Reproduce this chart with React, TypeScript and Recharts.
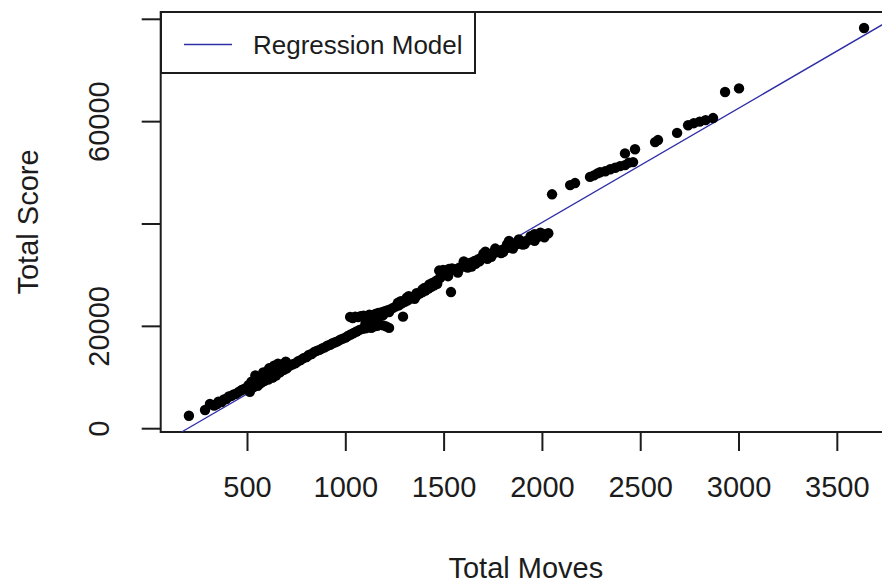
import React from "react";
import {
  ScatterChart,
  Scatter,
  XAxis,
  YAxis,
  ReferenceLine,
  ReferenceArea,
  Label,
} from "recharts";

// [total moves, total score] per game, grouped by game length
const shortGames: [number, number][] = [
  [202, 2540], [284, 3650], [309, 4830], [330, 4500], [345, 4800], [352, 5300],
  [368, 5200], [380, 5700], [392, 5800], [405, 6300], [418, 6400], [430, 6700],
  [441, 6800], [455, 7200], [468, 7500], [480, 7700], [492, 7900],
];

const mediumGames: [number, number][] = [
  [505, 8500], [512, 7200], [516, 8000], [520, 9200], [528, 9000], [530, 8100],
  [536, 9500], [540, 10400], [545, 9800], [548, 9100], [552, 8400], [556, 9900],
  [560, 8700], [565, 10000], [570, 9000], [574, 9500], [580, 11000], [582, 10400],
  [585, 9300], [590, 10700], [598, 10100], [600, 11200], [605, 9600], [607, 10800],
  [610, 11800], [615, 11300], [620, 10000], [623, 10600], [628, 10000], [632, 11500],
  [635, 12300], [640, 10800], [641, 11900], [645, 10400], [650, 11300], [655, 12700],
  [660, 12200], [665, 11000], [668, 12200], [676, 11700], [680, 12600], [685, 11500],
  [690, 12400], [695, 13100], [700, 11800], [705, 12200], [718, 12400], [730, 12600],
  [745, 12800], [758, 13200], [770, 13400], [785, 13800], [800, 14000], [812, 14400],
  [826, 14600], [840, 15000], [852, 15200], [866, 15400], [880, 15700], [893, 15900],
  [906, 16200], [920, 16400], [933, 16700], [946, 16900], [960, 17100], [972, 17400],
  [985, 17600], [998, 17800],
];

const longGames: [number, number][] = [
  [1010, 18100], [1025, 18400], [1040, 18700], [1055, 19000], [1070, 19300], [1085, 19500],
  [1100, 19600], [1115, 19800], [1130, 19700], [1145, 20000], [1160, 20100], [1175, 20300],
  [1190, 20200], [1205, 20000], [1220, 19700],
  [1022, 21850], [1035, 21600], [1048, 21900], [1062, 21800], [1075, 22000], [1090, 22100],
  [1105, 22000], [1120, 22300], [1135, 22200], [1150, 22400], [1165, 22600], [1180, 22700],
  [1195, 22900], [1210, 23100], [1225, 23300], [1240, 23600],
  [1100, 20500], [1130, 21000], [1160, 21700], [1190, 22200], [1220, 22800],
  [1255, 23900], [1265, 24600], [1270, 24100], [1280, 24900], [1285, 24500], [1291, 21900],
  [1300, 24800], [1310, 25600], [1315, 25100], [1320, 25900], [1330, 25500], [1345, 25800],
  [1350, 25400], [1360, 26000], [1360, 26500], [1375, 26400], [1390, 26700], [1390, 27200],
  [1400, 27500], [1405, 27000], [1420, 27400], [1425, 28200], [1435, 27700], [1440, 28500],
  [1450, 28000], [1460, 28900], [1465, 28300],
  [1475, 30900], [1480, 29500], [1485, 30700], [1495, 31000], [1500, 30000], [1505, 30600],
  [1515, 30900], [1520, 29800], [1525, 31200], [1535, 26700], [1540, 31300],
];

const marathonGames: [number, number][] = [
  [1550, 31000], [1565, 31200], [1570, 30500], [1580, 31500], [1595, 31700], [1600, 32700],
  [1600, 31900], [1610, 32000], [1620, 31500], [1625, 32300], [1640, 32500], [1640, 31700],
  [1655, 32800], [1660, 32200], [1670, 33000], [1680, 32700], [1685, 33300], [1700, 33500],
  [1700, 34200], [1710, 34600], [1715, 33700], [1720, 33200], [1730, 34000], [1740, 33600],
  [1745, 34200], [1760, 34400], [1760, 35200], [1775, 34700], [1790, 34900], [1790, 34300],
  [1800, 34500], [1805, 35100], [1820, 35300], [1820, 36000], [1830, 36700], [1835, 35600],
  [1850, 35800], [1850, 35200], [1865, 36000], [1880, 36200], [1880, 37000], [1895, 36400],
  [1900, 36000], [1910, 36600], [1910, 36100], [1925, 36800], [1940, 37000], [1940, 37600],
  [1955, 37200], [1960, 36700], [1960, 38000], [1970, 37400], [1985, 37600], [1990, 38300],
  [2000, 37800], [2010, 37400], [2015, 38000], [2030, 38200],
];

const extremeGames: [number, number][] = [
  [2049, 45800], [2141, 47600], [2166, 48000], [2242, 49200], [2262, 49500], [2280, 49900],
  [2293, 50100], [2320, 50300], [2345, 50700], [2370, 51000], [2395, 51300], [2420, 51500],
  [2420, 53800], [2440, 52000], [2461, 52100], [2471, 54600], [2573, 56000], [2588, 56400],
  [2685, 57800], [2741, 59300], [2770, 59700], [2800, 60000], [2830, 60300], [2868, 60700],
  [2929, 65800], [3000, 66500], [3636, 78300],
];

const movesTicks = [500, 1000, 1500, 2000, 2500, 3000, 3500];
const scoreTicks = [0, 20000, 40000, 60000, 80000];
const scoreLabels = [0, 20000, 60000];

// fitted model: score = slope * moves + intercept
const slope = 22.33;
const intercept = -4330;

const xDomain: [number, number] = [58.5, 3773];
const yDomain: [number, number] = [-645, 81426];

const games = [...shortGames, ...mediumGames, ...longGames, ...marathonGames, ...extremeGames].map(
  ([moves, score]) => ({ moves, score })
);

const fitStartX = (yDomain[0] - intercept) / slope;
const fitEndX = xDomain[1];
const fitLine = [
  { x: fitStartX, y: slope * fitStartX + intercept },
  { x: fitEndX, y: slope * fitEndX + intercept },
];

const FONT = "'Liberation Sans', Arial, sans-serif";
const INK = "#1c1c1c";
const FIT_COLOR = "#2e2ea6";

const XTick = (props: any) => {
  const { x, y, payload } = props;
  return (
    <text x={x} y={y + 46} textAnchor="middle" fontSize={29} fontFamily={FONT} fill={INK}>
      {payload.value}
    </text>
  );
};

const YTick = (props: any) => {
  const { y, payload } = props;
  if (!scoreLabels.includes(payload.value)) return null;
  const bx = 109;
  return (
    <text
      x={bx}
      y={y}
      textAnchor="middle"
      fontSize={29}
      fontFamily={FONT}
      fill={INK}
      transform={`rotate(-90 ${bx} ${y})`}
    >
      {payload.value}
    </text>
  );
};

const XTitle = (props: any) => {
  const { viewBox } = props;
  return (
    <text
      x={viewBox.x + viewBox.width / 2}
      y={578}
      textAnchor="middle"
      fontSize={29}
      fontFamily={FONT}
      fill={INK}
    >
      Total Moves
    </text>
  );
};

const YTitle = (props: any) => {
  const { viewBox } = props;
  const cy = viewBox.y + viewBox.height / 2;
  return (
    <text
      x={38}
      y={cy}
      textAnchor="middle"
      fontSize={29}
      fontFamily={FONT}
      fill={INK}
      transform={`rotate(-90 38 ${cy})`}
    >
      Total Score
    </text>
  );
};

const Dot = (props: any) => <circle cx={props.cx} cy={props.cy} r={5.2} fill="#000" />;

export default function App() {
  return (
    <div
      style={{
        position: "absolute",
        left: 0,
        top: 0,
        width: 882,
        height: 585,
        overflow: "hidden",
        background: "#fff",
      }}
    >
      <ScatterChart
        width={895}
        height={585}
        margin={{ top: 12, right: 4, bottom: 3, left: 10.7 }}
      >
        <XAxis
          type="number"
          dataKey="moves"
          domain={xDomain}
          allowDataOverflow
          ticks={movesTicks}
          interval={0}
          axisLine={false}
          tickLine={{ stroke: INK, strokeWidth: 2 }}
          tickSize={19}
          tickMargin={0}
          height={150}
          tick={<XTick />}
        >
          <Label content={<XTitle />} />
        </XAxis>
        <YAxis
          type="number"
          dataKey="score"
          domain={yDomain}
          allowDataOverflow
          ticks={scoreTicks}
          interval={0}
          axisLine={false}
          tickLine={{ stroke: INK, strokeWidth: 2 }}
          tickSize={19}
          tickMargin={0}
          width={150}
          tick={<YTick />}
        >
          <Label content={<YTitle />} />
        </YAxis>
        <Scatter data={games} shape={<Dot />} isAnimationActive={false} />
        <ReferenceLine
          segment={fitLine}
          stroke={FIT_COLOR}
          strokeWidth={1.4}
          ifOverflow="visible"
        />
        <ReferenceArea
          x1={xDomain[0]}
          x2={xDomain[1]}
          y1={yDomain[0]}
          y2={yDomain[1]}
          fill="none"
          stroke={INK}
          strokeWidth={2}
          ifOverflow="visible"
        />
      </ScatterChart>
      {/* legend box, top-left corner of the plot */}
      <div
        style={{
          position: "absolute",
          left: 160,
          top: 11,
          width: 312,
          height: 59,
          border: `2px solid ${INK}`,
          background: "#fff",
        }}
      >
        <svg width={312} height={59} style={{ display: "block" }}>
          <line x1={22} y1={31.5} x2={70} y2={31.5} stroke={FIT_COLOR} strokeWidth={1.6} />
          <text x={91} y={41} fontSize={26} fontFamily={FONT} fill={INK}>
            Regression Model
          </text>
        </svg>
      </div>
    </div>
  );
}
